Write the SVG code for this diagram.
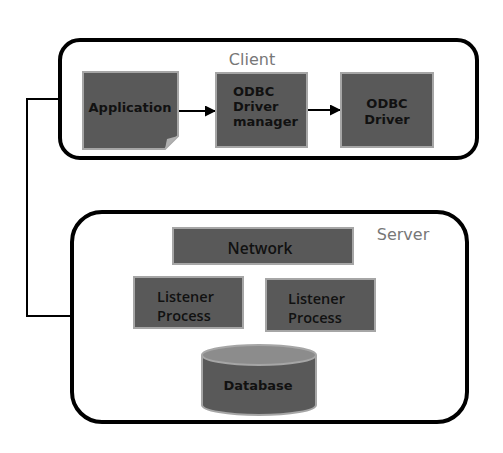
<svg xmlns="http://www.w3.org/2000/svg" width="503" height="453" viewBox="0 0 503 453">
<defs>
<style>
.frame{fill:#fff;stroke:#000;stroke-width:4}
.box{fill:#595959;stroke:#a6a6a6;stroke-width:2}
.lbl{font-family:"DejaVu Sans",Verdana,sans-serif;font-weight:bold;font-size:13px;fill:#111}
.lbl2{font-family:"Open Sans","DejaVu Sans",sans-serif;font-weight:600;font-size:14.5px;fill:#111}
.title{font-family:"DejaVu Sans",Verdana,sans-serif;font-size:16px;fill:#777}
.conn{fill:none;stroke:#000;stroke-width:2}
</style>
<marker id="ah" markerWidth="11" markerHeight="11" refX="10" refY="5.5" orient="auto" markerUnits="userSpaceOnUse">
<path d="M0,0 L11,5.5 L0,11 Z" fill="#000"/>
</marker>
</defs>
<rect width="503" height="453" fill="#fff"/>
<g id="client">
<rect class="frame" x="60" y="40" width="417" height="118" rx="20"/>
<text class="title" x="252" y="65" text-anchor="middle">Client</text>
</g>
<g id="server">
<rect class="frame" x="72" y="212" width="395" height="210" rx="30"/>
<text class="title" x="403" y="240" text-anchor="middle">Server</text>
</g>
<g id="connectors">
<path class="conn" d="M60,99 H27 V316 H72"/>
<line class="conn" x1="178" y1="111" x2="215" y2="111" marker-end="url(#ah)"/>
<line class="conn" x1="307" y1="110" x2="340" y2="110" marker-end="url(#ah)"/>
</g>
<g id="application">
<path class="box" d="M83,72 H178 V136 L165,149 H83 Z"/>
<path d="M178,136 L165,149 L167,139 Z" fill="#b0b0b0"/>
<text class="lbl" x="130" y="112" text-anchor="middle">Application</text>
</g>
<g id="odbc-manager">
<rect class="box" x="216" y="73" width="91" height="74"/>
<text class="lbl" x="233" y="96">ODBC</text>
<text class="lbl" x="233" y="111">Driver</text>
<text class="lbl" x="233" y="126">manager</text>
</g>
<g id="odbc-driver">
<rect class="box" x="341" y="73" width="92" height="74"/>
<text class="lbl" x="387" y="108" text-anchor="middle">ODBC</text>
<text class="lbl" x="387" y="124" text-anchor="middle">Driver</text>
</g>
<g id="network">
<rect class="box" x="173" y="228" width="180" height="36"/>
<text class="lbl2" x="260" y="254" text-anchor="middle" style="font-size:15.5px">Network</text>
</g>
<g id="listener1">
<rect class="box" x="134" y="277" width="109" height="51"/>
<text class="lbl2" x="157" y="302">Listener</text>
<text class="lbl2" x="157" y="321">Process</text>
</g>
<g id="listener2">
<rect class="box" x="266" y="279" width="109" height="52"/>
<text class="lbl2" x="288" y="304">Listener</text>
<text class="lbl2" x="288" y="323">Process</text>
</g>
<g id="database">
<path class="box" d="M202,355 V405 A57,10 0 0 0 316,405 V355"/>
<ellipse cx="259" cy="355" rx="57" ry="10" fill="#8c8c8c" stroke="#a6a6a6" stroke-width="2"/>
<text class="lbl" x="258" y="390" text-anchor="middle">Database</text>
</g>
</svg>
